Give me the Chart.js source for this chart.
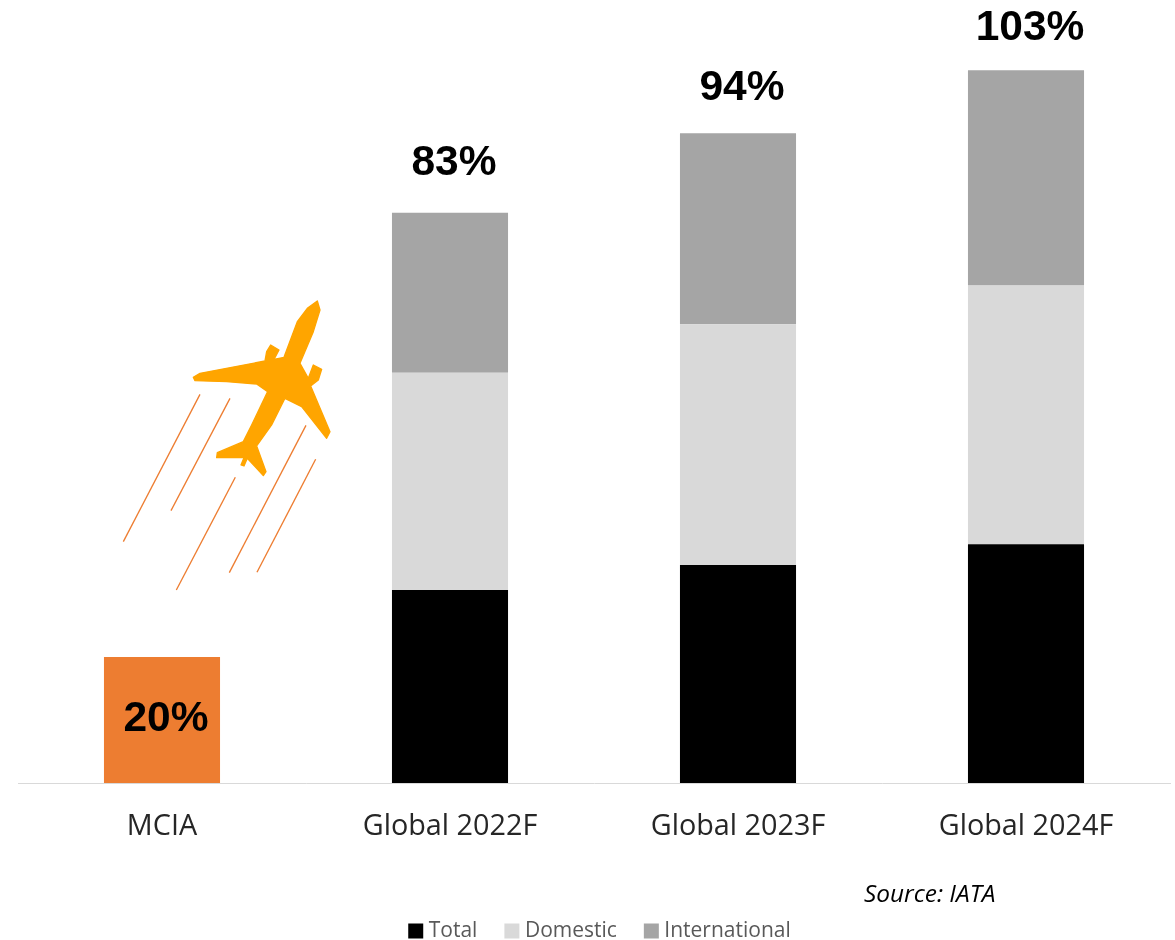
<!DOCTYPE html>
<html><head><meta charset="utf-8">
<script src="https://cdn.jsdelivr.net/npm/chart.js@4/dist/chart.umd.min.js"></script>
<style>html,body{margin:0;padding:0;background:#fff;overflow:hidden}
#w{position:relative;width:1175px;height:940px}
canvas{position:absolute;left:0;top:0}
svg{position:absolute;left:0;top:0;pointer-events:none}</style></head>
<body><div id="w"><canvas id="c" width="1175" height="940"></canvas>
<svg width="1175" height="940" viewBox="0 0 1175 940">
<defs><filter id="soft" x="-5%" y="-5%" width="110%" height="110%"><feGaussianBlur stdDeviation="1.6"/></filter></defs>
<g transform="translate(100,280) scale(0.3333)">
<path filter="url(#soft)" fill="#FFA500" stroke="#FFA500" stroke-width="4" stroke-linejoin="round" d="M652 63L660 90L640 155L600 250L625 295L640 255L665 268L655 300L632 318L690 455L680 475L605 380L555 355L515 435L470 498L498 575L490 587L442 535L432 558L423 555L432 533L350 533L352 518L430 485L455 435L503 335L470 312L380 305L285 302L280 292L300 280L495 243L500 215L512 195L537 210L522 238L552 232L592 125L622 85Z"/>
<g stroke="#ED7D31" stroke-width="4" fill="none">
<path d="M300 343L70 785"/><path d="M390 355L213 692"/><path d="M406 592L229 930"/><path d="M618 436L388 878"/><path d="M647 538L471 877"/>
</g></g></svg></div>
<script>
const categories = ["MCIA","Global 2022F","Global 2023F","Global 2024F"];
const mcia = [18.2,null,null,null];
const total = [null,27.9,31.5,34.5];
const domestic = [null,31.4,34.8,37.4];
const international = [null,23.1,27.6,31.1];
const topLabels = ["20%","83%","94%","103%"];
const labelCenterValues = [9.2,89.6,100.4,109.1];
const sourceText = "Source: IATA";

const labelsPlugin = {
  id:'labelsPlugin',
  afterLayout(chart){
    const l = chart.legend;
    l.left += 8; l.right += 8;
    l.top += 11.5; l.bottom += 11.5;
  },
  afterDatasetsDraw(chart){
    const {ctx,scales:{x,y}} = chart;
    ctx.save();
    ctx.fillStyle='#000';
    ctx.font='bold 42.5px "Liberation Sans"';
    ctx.textAlign='center';ctx.textBaseline='middle';
    topLabels.forEach((t,i)=>ctx.fillText(t,x.getPixelForValue(i)+4,y.getPixelForValue(labelCenterValues[i])));
    ctx.font='italic 24.4px "Open Sans"';
    ctx.textAlign='left';ctx.fillStyle='#000';
    ctx.fillText(sourceText,864,895);
    ctx.restore();
  }
};
const common={stack:'s',barPercentage:0.403,categoryPercentage:1,borderWidth:0};
new Chart(document.getElementById('c'),{
  type:'bar',
  data:{labels:categories,datasets:[
    {label:'MCIA',data:mcia,backgroundColor:'#ED7D31',...common},
    {label:'Total',data:total,backgroundColor:'#000000',...common},
    {label:'Domestic',data:domestic,backgroundColor:'#D9D9D9',...common},
    {label:'International',data:international,backgroundColor:'#A5A5A5',...common}
  ]},
  options:{
    responsive:false,animation:false,
    layout:{padding:{left:18,right:5,top:0,bottom:0}},
    plugins:{
      tooltip:{enabled:false},
      legend:{position:'bottom',
        labels:{boxWidth:5,boxHeight:5,padding:32,color:'#595959',font:{family:'"Open Sans"',size:21},
          filter:i=>i.text!=='MCIA',
          generateLabels(chart){
            return Chart.defaults.plugins.legend.labels.generateLabels(chart).map(it=>({...it,strokeStyle:it.fillStyle,lineWidth:10}));
          }}}
    },
    scales:{
      x:{stacked:true,grid:{display:false,drawTicks:false},border:{display:true,color:'#D9D9D9',width:1},
        ticks:{color:'#262626',font:{family:'"Open Sans"',size:28.8},padding:27,maxRotation:0},
        afterFit(s){s.height=94;}},
      y:{stacked:true,display:false,min:0,max:113.15}
    }
  },
  plugins:[labelsPlugin]
});
</script></body></html>
